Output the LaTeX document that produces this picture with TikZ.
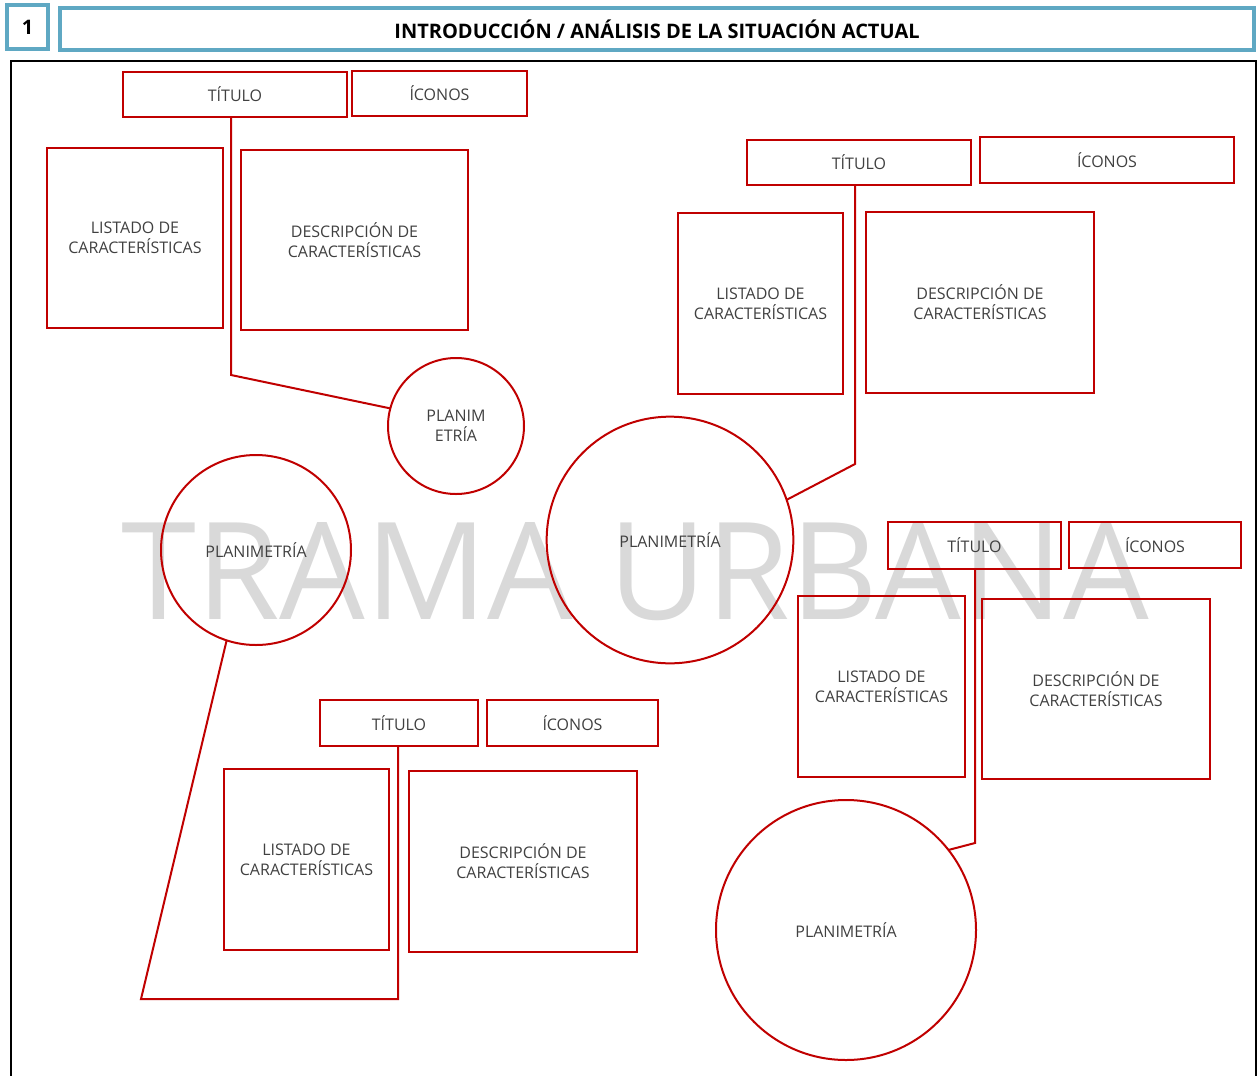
\documentclass[tikz,border=0pt]{standalone}
\usepackage{fontspec}
\setmainfont{Open Sans}
\definecolor{rojo}{HTML}{C00000}
\definecolor{azul}{HTML}{5FA8C3}
\definecolor{gristxt}{HTML}{404040}
\definecolor{marca}{HTML}{D9D9D9}
\begin{document}
\begin{tikzpicture}[x=0.75pt,y=-0.75pt,
  sz/.style 2 args={minimum width=#1*0.75pt,minimum height=#2*0.75pt},
  box/.style={draw=rojo,line width=1.5pt,inner sep=0pt,outer sep=0pt,align=center,text=gristxt,font=\fontsize{12}{15}\selectfont},
  circ/.style={circle,draw=rojo,line width=1.5pt,inner sep=0pt,outer sep=0pt,align=center,text=gristxt,font=\fontsize{12}{15}\selectfont},
  conn/.style={draw=rojo,line width=1.5pt,line join=miter},
  hdr/.style={draw=azul,line width=3pt,inner sep=0pt,outer sep=0pt,font=\bfseries\fontsize{15}{17}\selectfont}]
\useasboundingbox (0,0) rectangle (1257,1075);
% watermark
\node (wm) at (635,572) [text=marca,font=\fontsize{101.5}{110}\selectfont,inner sep=0pt] {TRAMA URBANA};
% header
\node (num) [hdr,sz={41}{44}] at (27.5,27) {1};
\node (head) [hdr,sz={1194}{42}] at (657,29) {INTRODUCCIÓN / ANÁLISIS DE LA SITUACIÓN ACTUAL};
% frame
\draw[line width=1.5pt] (11,1076) -- (11,61) -- (1256,61) -- (1256,1076);
% cluster 1
\node (t1) [box,sz={224}{45}] at (235,94.5) {TÍTULO};
\node (i1) [box,sz={175}{45}] at (439.5,93.5) {ÍCONOS};
\node (l1) [box,sz={176}{180}] at (135,238) {LISTADO DE\\CARACTERÍSTICAS};
\node (d1) [box,sz={227}{180}] at (354.5,240) {DESCRIPCIÓN DE\\CARACTERÍSTICAS};
\node (c1) [circ,minimum size=102pt] at (456,426) {PLANIM\\ETRÍA};
\coordinate (b1) at (231,375);
\draw[conn] (t1.south -| b1) -- (b1) -- (c1.165);
% cluster 2
\node (t2) [box,sz={224}{45}] at (859,162.5) {TÍTULO};
\node (i2) [box,sz={254}{46}] at (1107,160) {ÍCONOS};
\node (l2) [box,sz={165}{181}] at (760.5,303.5) {LISTADO DE\\CARACTERÍSTICAS};
\node (d2) [box,sz={228}{181}] at (980,302.5) {DESCRIPCIÓN DE\\CARACTERÍSTICAS};
\node (c2) [circ,minimum size=185pt] at (670,540) {PLANIMETRÍA};
\coordinate (b2) at (855,464);
\draw[conn] (t2.south -| b2) -- (b2) -- (c2.19.5);
% cluster 3
\node (t3) [box,sz={173}{47}] at (974.5,545.5) {TÍTULO};
\node (i3) [box,sz={172}{46}] at (1155,545) {ÍCONOS};
\node (l3) [box,sz={167}{181}] at (881.5,686.5) {LISTADO DE\\CARACTERÍSTICAS};
\node (d3) [box,sz={228}{180}] at (1096,689) {DESCRIPCIÓN DE\\CARACTERÍSTICAS};
\node (c3) [circ,minimum size=195pt] at (846,930) {PLANIMETRÍA};
\coordinate (b3) at (975,843);
\draw[conn] (t3.south -| b3) -- (b3) -- (c3.38);
% cluster 4
\node (t4) [box,sz={158}{46}] at (399,723) {TÍTULO};
\node (i4) [box,sz={171}{46}] at (572.5,723) {ÍCONOS};
\node (l4) [box,sz={165}{181}] at (306.5,859.5) {LISTADO DE\\CARACTERÍSTICAS};
\node (d4) [box,sz={228}{181}] at (523,861.5) {DESCRIPCIÓN DE\\CARACTERÍSTICAS};
\node (c4) [circ,minimum size=142.5pt] at (256,550) {PLANIMETRÍA};
\coordinate (b4a) at (398,999);
\coordinate (b4b) at (141,999);
\draw[conn] (t4.south -| b4a) -- (b4a) -- (b4b) -- (c4.-108);
\end{tikzpicture}
\end{document}
